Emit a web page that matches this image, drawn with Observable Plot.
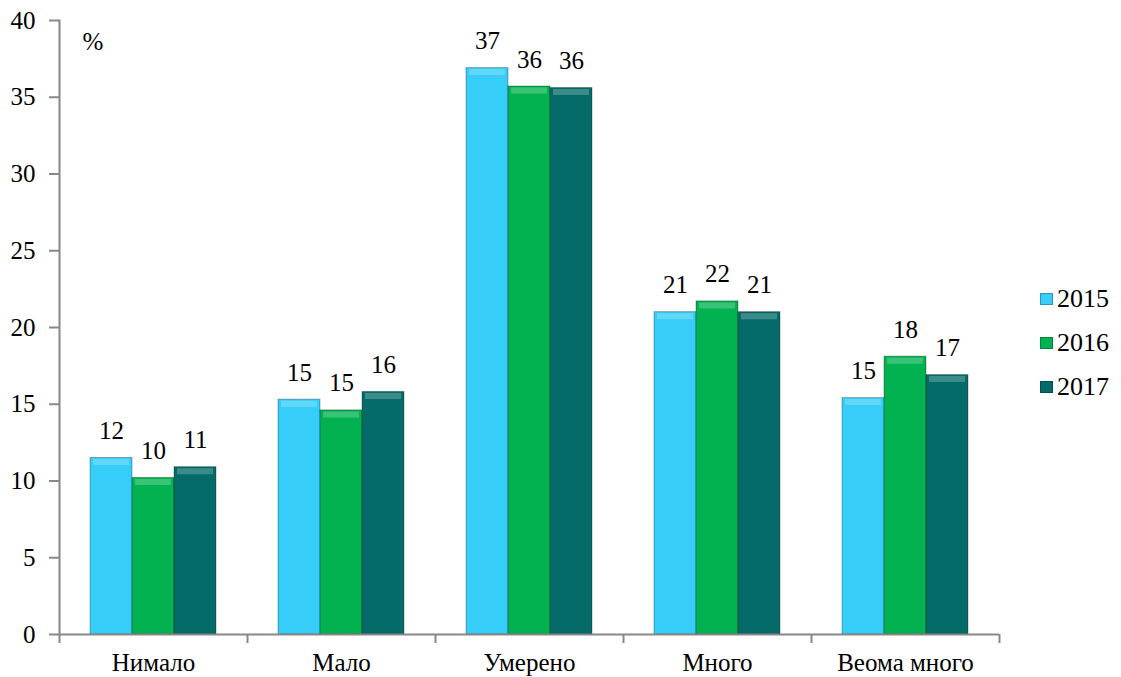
<!DOCTYPE html>
<html>
<head>
<meta charset="utf-8">
<script src="https://cdn.jsdelivr.net/npm/d3@7"></script>
<script src="https://cdn.jsdelivr.net/npm/@observablehq/plot@0.6"></script>
<style>
  html, body { margin: 0; padding: 0; background: white; }
  #wrap { position: relative; width: 1121px; height: 677px; overflow: hidden; }
  #legend { position: absolute; left: 1040px; top: 277px; font-family: 'Liberation Serif'; font-size: 26px; color: black; }
  .row { display: flex; align-items: center; height: 44px; }
  .sw { width: 13px; height: 12px; margin-right: 4px; box-shadow: inset 0 0 0 1px rgba(0,0,0,0.25); }
</style>
</head>
<body>
<div id="wrap"><div id="chart"></div><div id="legend"></div></div>
<script>
const categories = ["Нимало", "Мало", "Умерено", "Много", "Веома много"];
const years = ["2015", "2016", "2017"];
const values2015 = [11.5, 15.3, 36.9, 21.0, 15.4];
const values2016 = [10.2, 14.6, 35.7, 21.7, 18.1];
const values2017 = [10.9, 15.8, 35.6, 21.0, 16.9];
const yTicks = [0, 5, 10, 15, 20, 25, 30, 35, 40];
const colors = ["#36cdf8", "#02b251", "#056b69"];

const series = [values2015, values2016, values2017];
const data = categories.flatMap((c, i) => years.map((y, j) => ({cat: c, year: y, value: series[j][i]})));

const chart = Plot.plot({
  width: 1010,
  height: 677,
  marginLeft: 59,
  marginRight: 11,
  marginTop: 20,
  marginBottom: 43,
  style: {fontFamily: "'Liberation Serif'", fontSize: "25px", color: "black", background: "white"},
  fx: {domain: categories, padding: 0, label: null},
  x: {domain: years, paddingInner: 0, paddingOuter: 0.7, axis: null},
  y: {domain: [0, 40], label: null},
  color: {domain: years, range: colors},
  marks: [
    Plot.axisY({ticks: yTicks, tickSize: 10, tickPadding: 14, stroke: "#888", strokeWidth: 2, fill: "black", fontSize: 25, label: null}),
    Plot.axisFx({anchor: "bottom", tickSize: 0, tickPadding: 19, fontSize: 25, label: null}),
    Plot.axisFx({anchor: "bottom", text: null, tickSize: 9, dx: -94, stroke: "#888", strokeWidth: 2, label: null}),
    Plot.axisFx({anchor: "bottom", ticks: [categories[categories.length - 1]], text: null, tickSize: 9, dx: 94, stroke: "#888", strokeWidth: 2, label: null}),
    Plot.barY(data, {fx: "cat", x: "year", y: "value", fill: "year", stroke: "rgba(0,0,0,0.3)", strokeWidth: 1}),
    Plot.tickY(data, {fx: "cat", x: "year", y: "value", stroke: "white", strokeOpacity: 0.22, strokeWidth: 6, dy: 4, insetLeft: 3, insetRight: 3}),
    Plot.text(data, {fx: "cat", x: "year", y: "value", text: d => Math.round(d.value), dy: -19, lineAnchor: "bottom", fontSize: 25}),
    Plot.ruleY([0], {stroke: "#888", strokeWidth: 2}),
    Plot.frame({anchor: "left", facetAnchor: "left", stroke: "#888", strokeWidth: 2}),
    Plot.text(["%"], {frameAnchor: "top-left", dx: 23, dy: 12, textAnchor: "start", lineAnchor: "top", facetAnchor: "left", fontSize: 25})
  ]
});
document.getElementById("chart").appendChild(chart);

const legend = document.getElementById("legend");
years.forEach((y, j) => {
  const row = document.createElement("div");
  row.className = "row";
  const sw = document.createElement("div");
  sw.className = "sw";
  sw.style.background = colors[j];
  const t = document.createElement("span");
  t.textContent = y;
  row.appendChild(sw);
  row.appendChild(t);
  legend.appendChild(row);
});
</script>
</body>
</html>
